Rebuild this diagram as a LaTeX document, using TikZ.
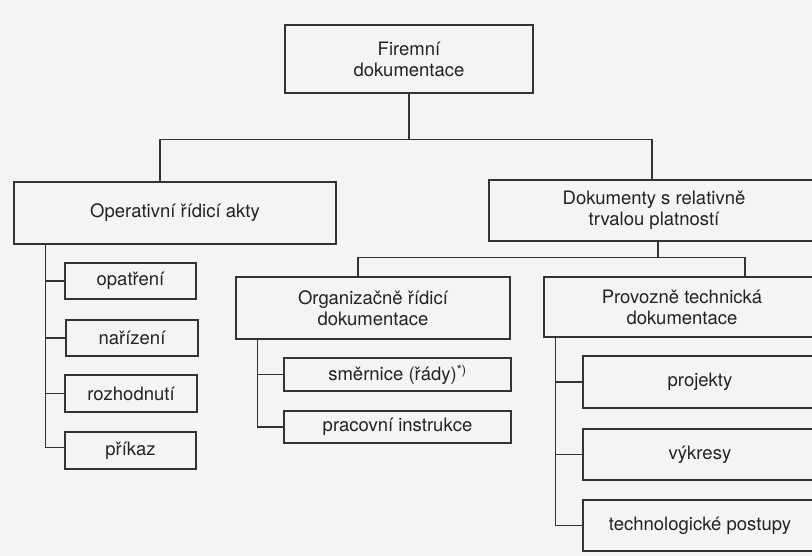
\documentclass[tikz,border=0pt]{standalone}
\usepackage{fontspec}
\setmainfont{TeX Gyre Heros}
\definecolor{linec}{HTML}{333333}
\definecolor{textc}{HTML}{222222}
\definecolor{paper}{HTML}{F4F4F4}
\begin{document}
\begin{tikzpicture}[x=1pt,y=-1pt]
		\tikzstyle{every node}=[draw=linec,line width=1.3pt,shape=rectangle,inner sep=0pt,
			align=center,text=textc,font=\fontsize{18.5}{21}\selectfont];
		\useasboundingbox (0,0) rectangle (812,556);
		\fill[paper] (0,0) rectangle (812,556);
		\clip (0,0) rectangle (812,556);
		% hlavni uroven
		\node[minimum width=248pt,minimum height=68pt] (firma) at (409,59) {Firemní\\dokumentace};
		\node[minimum width=322pt,minimum height=62pt] (oper) at (175,213) {Operativní řídicí akty};
		\node[minimum width=330pt,minimum height=61pt] (trval) at (654,210.5) {Dokumenty s relativně\\trvalou platností};
		\node[minimum width=274pt,minimum height=62pt] (org) at (373,308) {Organizačně řídicí\\dokumentace};
		\node[minimum width=276pt,minimum height=60pt] (prov) at (682,307) {Provozně technická\\dokumentace};
		% operativni akty
		\node[minimum width=131pt,minimum height=36pt] (opat) at (130.5,281) {opatření};
		\node[minimum width=132pt,minimum height=36pt] (nariz) at (132,338) {nařízení};
		\node[minimum width=132pt,minimum height=37pt] (rozh) at (131,393.5) {rozhodnutí};
		\node[minimum width=131pt,minimum height=37pt] (prik) at (130.5,450.5) {příkaz};
		% organizacne ridici
		\node[minimum width=227pt,minimum height=33pt] (smer) at (397.5,374.5) {směrnice (řády)\textsuperscript{*)}};
		\node[minimum width=227pt,minimum height=32pt] (prac) at (397.5,427) {pracovní instrukce};
		% provozne technicka
		\node[minimum width=234pt,minimum height=52pt] (proj) at (700,382) {projekty};
		\node[minimum width=234pt,minimum height=51pt] (vykr) at (700,454.5) {výkresy};
		\node[minimum width=234pt,minimum height=51pt] (tech) at (700,525.5) {technologické postupy};
		\draw[linec,line width=1.3pt]
		(firma.south) -- ++(0,46) -| ([xshift=-15pt]oper.north)
		(firma.south) -- ++(0,46) -| ([xshift=-2pt]trval.north)
		([xshift=4pt]trval.south) -- ++(0,16) -| ([xshift=-15pt]org.north)
		([xshift=4pt]trval.south) -- ++(0,16) -| ([xshift=63pt]prov.north)
		([xshift=32pt]oper.south west) |- (opat.west)
		([xshift=32pt]oper.south west) |- (nariz.west)
		([xshift=32pt]oper.south west) |- (rozh.west)
		([xshift=32pt]oper.south west) |- ([yshift=3pt]prik.west)
		([xshift=22pt]org.south west) |- (smer.west)
		([xshift=22pt]org.south west) |- (prac.west)
		([xshift=12pt]prov.south west) |- (proj.west)
		([xshift=12pt]prov.south west) |- (vykr.west)
		([xshift=12pt]prov.south west) |- (tech.west);
	\end{tikzpicture}
\end{document}
